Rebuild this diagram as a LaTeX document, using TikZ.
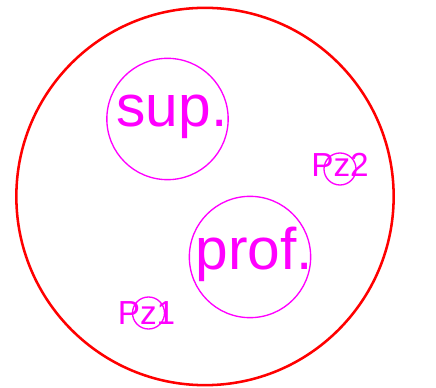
\documentclass[tikz,border=0pt]{standalone}
\usepackage{fontspec}
\setmainfont{Liberation Sans}
\usepackage{tikz}
\usetikzlibrary{positioning, calc}
\definecolor{pzmag}{RGB}{255,0,255}

\begin{document}
\begin{tikzpicture}[x=0.75pt, y=-0.75pt,
    outer/.style={draw=red, line width=1.9pt},
    ring/.style={draw=pzmag, line width=1pt},
    big/.style={text=pzmag, font=\fontsize{44}{44}\selectfont, anchor=base, inner sep=0pt},
    small/.style={text=pzmag, font=\fontsize{25}{25}\selectfont, anchor=base, inner sep=0pt}]

    \useasboundingbox (0,0) rectangle (436,388);

    \coordinate (univ) at (205,196.5);
    \coordinate (supc) at (167.5,119);
    \coordinate (profc) at (250,257);
    \coordinate (pztwoc) at (340,169);
    \coordinate (pzonec) at (148.5,313);

    \draw [outer] (univ) circle (141.5pt);
    \draw [ring] (supc) circle (45.5pt);
    \draw [ring] (profc) circle (45.5pt);
    \draw [ring] (pztwoc) circle (12pt);
    \draw [ring] (pzonec) circle (12pt);

    \node [big] (sup) at (172,127) {sup.};
    \node [big] (prof) at (254.5,270) {prof.};
    \node [small] (pz2) at (340,177) {Pz2};
    \node [small] (pz1) at (146.5,325) {Pz1};
\end{tikzpicture}
\end{document}
